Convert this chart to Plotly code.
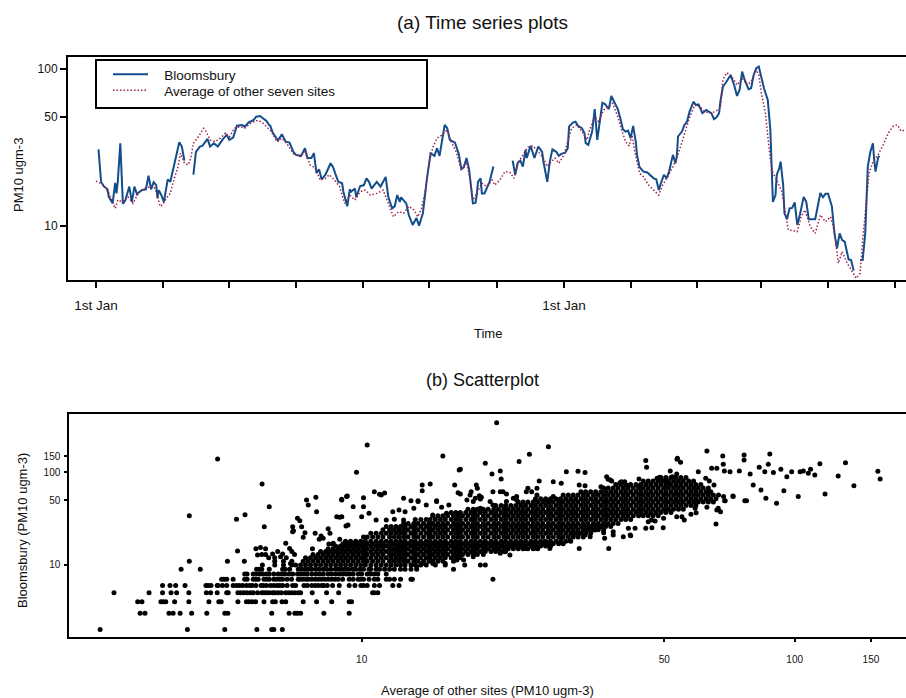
import pandas as pd
import plotly.graph_objects as go

# ---------------------------------------------------------------------------
# (a) Daily PM10 (ugm-3): Bloomsbury and the mean of the other seven sites.
#     Days are counted from 1st January of the first year; None marks gaps.
# ---------------------------------------------------------------------------
start = pd.Timestamp("1998-01-01")

bloom_day = [
    2, 4, 6, 9, 10, 12, 13, 15, 16, 17, 19, 21, 23, 26, 28, 30, 32, 34, 36, 39,
    41, 43, 45, 47, 48, 49, 51, 53, 56, 58, 62, 65, 67, 69, 72,
    76, 78, 81, 83, 87, 89, 92, 95, 99, 102, 104, 107, 110, 114, 116, 119, 123,
    125, 128, 130, 133, 135, 136, 138, 141, 142, 145, 147, 148, 151, 154, 156,
    160, 163, 165, 168, 170, 172, 174, 176, 179, 183, 185, 187, 189, 192, 193,
    196, 198, 199, 202, 203, 206, 209, 211, 213, 215, 219, 222, 224, 226, 228,
    231, 233, 235, 237, 238, 242, 244, 247, 250, 252, 255, 258, 261, 264, 266,
    268, 270, 272, 274, 276, 280, 283, 285, 287, 289, 291, 294, 296, 297, 298,
    300, 301, 303, 307, 310, 318,
    325, 327, 329, 331, 333, 335, 336, 339, 342, 345, 348, 349, 352, 354, 356,
    359, 361, 363, 366, 368, 369, 372, 374, 376, 379, 381, 382, 384, 387, 389,
    391, 393, 395, 397, 400, 402, 404, 407, 409, 411, 413, 415, 417, 419, 421,
    422, 424, 427, 430, 432, 435, 437, 439, 441, 443, 445, 447, 450, 452, 453,
    454, 457, 459, 461, 463, 466, 468, 470, 473, 476, 478, 480, 482, 484, 486,
    487, 489, 491, 495, 498, 500, 502, 504, 506, 509, 511, 513, 515, 517, 519,
    521, 524, 526, 527, 528, 530, 531, 533, 534, 536, 537, 539, 541, 543, 545,
    547, 549, 552, 554, 556, 561, 565, 567, 569, 571, 574, 576, 578, 580, 582,
    584, 587, 589, 591, 593,
    596, 598, 600, 601, 602, 604, 606, 607, 608, 610, 611,
]
bloom_pm10 = [
    30.9, 19.2, 18.0, 17.2, 15.4, 14.5, 14.0, 18.9, 16.2, 19.2, 33.8, 13.9, 14.7,
    17.9, 14.3, 17.9, 16.0, 16.6, 17.0, 17.2, 21.0, 17.2, 19.1, 18.3, 15.1, 17.0,
    15.8, 14.3, 19.9, 19.2, 26.5, 34.3, 32.2, 26.2, None,
    21.3, 29.8, 32.2, 32.5, 36.0, 32.2, 33.8, 32.2, 35.9, 38.2, 35.5, 36.7, 43.7,
    44.2, 43.1, 45.8, 47.6, 49.9, 50.4, 48.8, 46.9, 44.2, 43.6, 39.2, 35.9, 35.2,
    38.6, 35.9, 34.6, 34.1, 29.8, 28.5, 28.1, 31.4, 27.2, 27.2, 29.2, 21.8, 23.1,
    19.9, 21.3, 25.2, 23.8, 21.3, 19.2, 18.8, 16.6, 13.4, 17.2, 16.6, 17.4, 15.3,
    18.0, 18.3, 20.2, 19.2, 17.4, 19.2, 17.9, 19.2, 20.6, 15.4, 13.0, 13.4, 15.8,
    14.3, 15.3, 14.0, 11.8, 10.2, 11.3, 10.1, 12.1, 19.7, 29.2, 28.1, 31.4, 28.1,
    36.4, 44.2, 42.1, 35.5, 34.1, 28.9, 23.1, 23.8, 27.2, 23.1, 14.0, 14.1, 15.8,
    19.2, 20.2, 16.2, 16.2, 19.2, 24.0, None,
    26.2, 21.3, 25.4, 26.2, 24.0, 30.6, 27.2, 32.5, 27.2, 32.2, 29.8, 25.8, 19.2,
    25.8, 30.9, 29.8, 28.1, 28.9, 29.4, 31.4, 43.1, 45.8, 46.4, 43.6, 42.1, 39.2,
    33.8, 33.0, 40.1, 55.7, 35.5, 46.4, 61.2, 60.1, 55.7, 67.6, 63.0, 55.7, 48.8,
    41.5, 40.1, 40.7, 36.4, 43.6, 34.6, 28.5, 23.8, 22.3, 22.0, 21.3, 20.2, 19.9,
    17.0, 19.2, 21.3, 20.2, 22.3, 28.5, 25.2, 27.8, 37.3, 40.1, 44.2, 46.4, 53.7,
    62.1, 59.2, 59.8, 52.5, 55.1, 53.7, 52.5, 48.1, 49.5, 52.5, 62.1, 77.4, 81.4,
    92.0, 78.2, 67.6, 73.8, 96.6, 85.5, 74.6, 75.7, 92.0, 101.5, 103.9, 87.7,
    75.7, 63.7, 41.1, 24.0, 14.3, 15.8, 21.3, 23.5, 25.8, 18.3, 12.1, 11.1, 13.0,
    13.1, 14.2, 10.2, 11.8, 15.4, 14.3, 11.1, 11.1, 16.3, 15.3, 16.1, 16.1, 13.4,
    9.02, 7.24, 9.02, 8.18, 7.98, 6.16, 6.10, 5.22, None,
    6.10, 6.10, 9.02, 15.4, 24.0, 29.8, 33.8, 26.5, 22.3, 27.2, 28.1,
]

avg_day = [
    0, 6, 10, 12, 15, 17, 21, 25, 29, 33, 37, 41, 45, 47, 50, 52, 55, 58, 60, 64,
    66, 69, 72, 74, 76, 80, 84, 86, 89, 93, 97, 101, 104, 108, 112, 116, 121,
    125, 129, 133, 137, 141, 145, 149, 154, 159, 163, 167, 171, 175, 179, 182,
    186, 190, 194, 198, 202, 206, 210, 214, 219, 224, 228, 232, 236, 240, 244,
    248, 251, 254, 257, 260, 263, 266, 270, 274, 277, 281, 285, 289, 292, 294,
    297, 301, 305, 309, 311, 315, 319, 323, 326, 329, 333, 337, 341, 345, 349,
    352, 354, 358, 361, 365, 368, 371, 375, 379, 383, 385, 389, 392, 396, 400,
    403, 407, 410, 413, 416, 418, 420, 424, 427, 431, 435, 439, 442, 446, 450,
    453, 456, 459, 463, 467, 471, 475, 479, 483, 487, 489, 492, 496, 500, 504,
    508, 511, 515, 517, 519, 522, 524, 526, 528, 531, 535, 537, 540, 544, 547,
    550, 553, 557, 561, 565, 569, 573, 576, 579, 582, 586, 589, 593, 596, 598,
    601, 603, 606, 610, 614, 618, 622, 625, 628, 631,
]
avg_pm10 = [
    19.4, 18.3, 16.3, 14.7, 13.0, 14.7, 14.3, 15.4, 14.0, 16.2, 17.4, 17.7, 18.0,
    16.6, 13.4, 13.7, 15.1, 16.2, 18.8, 24.0, 29.2, 25.2, 24.6, 27.2, 33.8, 37.3,
    42.1, 40.1, 35.5, 34.6, 36.4, 39.2, 36.9, 42.1, 43.1, 42.1, 45.6, 47.1, 46.4,
    43.1, 40.1, 34.6, 36.4, 33.5, 28.9, 27.8, 29.8, 24.6, 23.5, 19.7, 20.2, 21.3,
    19.7, 17.9, 14.0, 15.8, 14.7, 16.6, 17.0, 15.8, 16.2, 17.0, 14.0, 11.5, 12.4,
    12.1, 13.4, 12.7, 11.5, 13.0, 17.0, 25.8, 32.2, 36.4, 38.2, 41.1, 34.6, 29.8,
    22.9, 25.8, 19.7, 14.7, 16.2, 18.8, 17.9, 19.7, 18.3, 19.7, 22.3, 22.0, 20.2,
    25.2, 28.5, 31.9, 32.5, 29.8, 27.2, 24.0, 25.2, 27.2, 25.2, 28.5, 34.6, 42.1,
    44.2, 40.1, 35.5, 41.1, 49.9, 46.4, 55.1, 57.7, 60.7, 49.9, 41.1, 34.6, 32.5,
    38.2, 30.6, 21.8, 20.7, 18.3, 17.0, 15.8, 18.3, 20.7, 24.0, 27.2, 32.2, 38.2,
    49.4, 59.2, 57.7, 53.7, 52.5, 53.7, 56.6, 85.5, 95.2, 89.7, 79.4, 87.7, 79.4,
    83.4, 99.0, 92.0, 70.3, 53.7, 35.5, 26.5, 21.8, 19.7, 16.6, 13.4, 9.47, 9.38,
    9.24, 11.5, 12.7, 10.0, 9.02, 11.8, 10.7, 11.5, 9.24, 5.81, 6.89, 5.81, 5.27,
    4.67, 5.02, 8.18, 14.7, 21.8, 25.8, 28.5, 33.0, 39.2, 43.6, 44.2, 40.4, 41.0,
]

# ---------------------------------------------------------------------------
# (b) Paired daily values: x = average of other sites, y = Bloomsbury.
#     Low Bloomsbury readings are whole numbers, so they fall on rows.
# ---------------------------------------------------------------------------
low_rows_y = [2, 3, 4, 5, 6, 7, 8, 9]
low_rows_x = [
    "2.49 3.96 4.83 5.73 6.2 6.27 6.56",
    "3.08 3.16 3.59 3.67 3.81 4.05 4.39 4.83 4.91 6.2 6.8 7.01 7.11 7.23 8.18 9.36",
    "3.04 3.11 3.44 3.48 3.53 3.70 3.99 4.44 4.68 4.74 5.18 5.42 5.50 5.59 5.69 5.95 "
    "6.23 6.32 6.55 6.68 7.33 7.87 8.53 9.36 9.48",
    "2.68 3.23 3.47 3.63 3.74 3.99 4.38 4.48 4.64 4.88 4.92 5.18 5.26 5.34 5.43 5.53 "
    "5.62 5.75 5.88 5.95 6.03 6.12 6.23 6.31 6.42 6.53 6.68 6.78 6.88 7.00 7.13 7.23 "
    "7.69 8.30 8.85 10.6 10.7 10.9",
    "3.47 3.61 3.72 3.91 4.37 4.42 4.49 4.64 4.66 4.77 4.88 5.05 5.14 5.22 5.31 5.42 "
    "5.52 5.59 5.70 5.86 5.93 6.03 6.16 6.27 6.38 6.47 6.57 6.73 6.93 7.04 7.36 7.49 "
    "7.67 7.81 7.94 8.09 8.18 8.33 8.57 8.88 9.36 9.65 9.96 10.1 10.3 10.7 11.0 11.8 12.2",
    "4.75 4.81 4.88 5.05 5.37 5.44 5.62 5.70 5.77 5.95 6.03 6.12 6.27 6.36 6.47 6.57 "
    "6.73 6.89 7.14 7.20 7.31 7.44 7.53 7.67 7.81 7.94 8.09 8.23 8.37 8.53 8.68 8.83 "
    "9.04 9.36 9.56 9.82 9.95 10.1 10.4 10.7 10.9 11.4 11.6 11.9 12.3 13.0 13.1 20.1",
    "5.37 5.44 5.62 5.70 5.82 5.92 6.03 6.12 6.27 6.42 6.53 6.65 6.80 6.93 7.11 7.23 "
    "7.36 7.49 7.67 7.84 8.01 8.16 8.37 8.53 8.72 8.91 9.07 9.23 9.39 9.56 9.82 10.0 "
    "10.3 10.5 10.7 10.9 11.4",
    "3.83 4.24 5.72 5.80 5.88 6.12 6.57 6.66 6.82 7.14 7.27 7.40 7.53 7.67 7.84 7.98 "
    "8.16 8.31 8.49 8.69 8.84 9.0 9.15 9.32 9.53 9.69 9.91 10.1 10.4 10.5 10.8 11.0 "
    "11.3 11.6 11.9 12.3 12.6 13.0 13.4 16.3",
]

# Main body of the cloud (Bloomsbury value, then the matching averages)
band_rows_y = [10, 11, 12, 13, 14, 15, 16, 17, 18, 20, 22, 24, 26, 28, 31, 34,
               37, 40, 44, 48, 52, 57, 62, 68, 74, 81, 88]
band_rows_x = [
    "7.04 7.23 7.42 7.62 7.83 8.04 8.26 8.48 8.71 8.94 9.18 9.43 9.69 9.95 10.2 10.5 "
    "10.8 11.1 11.4 11.7 12.0 12.3 12.6 13.0 13.3 13.7 14.1 14.8 15.6",
    "7.33 7.52 7.72 7.93 8.15 8.37 8.59 8.83 9.06 9.30 9.56 9.82 10.1 10.3 10.6 10.9 "
    "11.2 11.6 11.9 12.2 12.5 12.8 13.2 13.5 13.9 14.3 14.6 15.0 15.4 16.3",
    "7.42 7.62 7.83 8.04 8.26 8.48 8.71 8.94 9.18 9.43 9.69 9.95 10.2 10.5 10.8 11.1 "
    "11.4 11.7 12.0 12.3 12.6 13.0 13.3 13.7 14.1 14.4 14.8 15.2 15.6 16.1 16.5 16.9",
    "7.72 7.93 8.15 8.37 8.59 8.83 9.06 9.30 9.56 9.82 10.1 10.3 10.6 10.9 11.2 11.6 "
    "11.9 12.2 12.5 12.8 13.2 13.5 13.9 14.3 14.6 15.0 15.4 15.8 16.3 16.7 17.1 17.6 "
    "18.1 18.5 19.1",
    "8.04 8.26 8.48 8.71 8.94 9.18 9.43 9.69 9.95 10.2 10.5 10.8 11.1 11.4 11.7 12.0 "
    "12.3 12.6 13.0 13.3 13.7 14.1 14.4 14.8 15.2 15.6 16.1 16.5 16.9 17.4 17.9 18.3 "
    "18.8 19.3 19.9 20.4 21.0 21.5",
    "8.37 8.59 8.83 9.06 9.30 9.56 9.82 10.1 10.3 10.6 10.9 11.2 11.6 11.9 12.2 12.5 "
    "12.8 13.2 13.5 13.9 14.3 14.6 15.0 15.4 15.8 16.3 16.7 17.1 17.6 18.1 18.5 19.1 "
    "19.6 20.2 20.7 21.3 21.8 22.4 23.0 23.6 24.2 24.9 25.5",
    "8.71 8.94 9.18 9.43 9.69 9.95 10.2 10.5 10.8 11.1 11.4 11.7 12.0 12.3 12.6 13.0 "
    "13.3 13.7 14.1 14.4 14.8 15.2 15.6 16.1 16.5 16.9 17.4 17.9 18.3 18.8 19.3 19.9 "
    "20.4 21.0 21.5 22.1 22.7 23.3 23.9 24.6 25.2 25.9 26.6 27.3",
    "9.06 9.30 9.56 9.82 10.1 10.3 10.6 10.9 11.2 11.6 11.9 12.2 12.5 12.8 13.2 13.5 "
    "13.9 14.3 14.6 15.0 15.4 15.8 16.3 16.7 17.1 17.6 18.1 18.5 19.1 19.6 20.2 20.7 "
    "21.3 21.8 22.4 23.0 23.6 24.2 24.9 25.5 26.2 27.0 27.7 28.5 29.2",
    "9.18 9.43 9.69 9.95 10.2 10.5 10.8 11.1 11.4 11.7 12.0 12.3 12.6 13.0 13.3 13.7 "
    "14.1 14.4 14.8 15.2 15.6 16.1 16.5 16.9 17.4 17.9 18.3 18.8 19.3 19.9 20.4 21.0 "
    "21.5 22.1 22.7 23.3 23.9 24.6 25.2 25.9 26.6 27.3 28.1 28.8 29.6 30.4",
    "10.1 10.3 10.6 10.9 11.2 11.6 11.9 12.2 12.5 12.8 13.2 13.5 13.9 14.3 14.6 15.0 "
    "15.4 15.8 16.3 16.7 17.1 17.6 18.1 18.5 19.1 19.6 20.2 20.7 21.3 21.8 22.4 23.0 "
    "23.6 24.2 24.9 25.5 26.2 27.0 27.7 28.5 29.2 30.0 30.8 31.6 32.5",
    "10.5 10.8 11.1 11.4 11.7 12.0 12.3 12.6 13.0 13.3 13.7 14.1 14.4 14.8 15.2 15.6 "
    "16.1 16.5 16.9 17.4 17.9 18.3 18.8 19.3 19.9 20.4 21.0 21.5 22.1 22.7 23.3 23.9 "
    "24.6 25.2 25.9 26.6 27.3 28.1 28.8 29.6 30.4 31.2 32.1 32.9 33.8",
    "11.2 11.6 11.9 12.2 12.5 12.8 13.2 13.5 13.9 14.3 14.6 15.0 15.4 15.8 16.3 16.7 "
    "17.1 17.6 18.1 18.5 19.1 19.6 20.2 20.7 21.3 21.8 22.4 23.0 23.6 24.2 24.9 25.5 "
    "26.2 27.0 27.7 28.5 29.2 30.0 30.8 31.6 32.5 33.3 34.3 35.2 36.2",
    "11.4 11.7 12.0 12.3 12.6 13.0 13.3 13.7 14.1 14.4 14.8 15.2 15.6 16.1 16.5 16.9 "
    "17.4 17.9 18.3 18.8 19.3 19.9 20.4 21.0 21.5 22.1 22.7 23.3 23.9 24.6 25.2 25.9 "
    "26.6 27.3 28.1 28.8 29.6 30.4 31.2 32.1 32.9 33.8 34.7 35.7 36.6 37.6",
    "12.5 12.8 13.2 13.5 13.9 14.3 14.6 15.0 15.4 15.8 16.3 16.7 17.1 17.6 18.1 18.5 "
    "19.1 19.6 20.2 20.7 21.3 21.8 22.4 23.0 23.6 24.2 24.9 25.5 26.2 27.0 27.7 28.5 "
    "29.2 30.0 30.8 31.6 32.5 33.3 34.3 35.2 36.2 37.1 38.1 39.1",
    "13.3 13.7 14.1 14.4 14.8 15.2 15.6 16.1 16.5 16.9 17.4 17.9 18.3 18.8 19.3 19.9 "
    "20.4 21.0 21.5 22.1 22.7 23.3 23.9 24.6 25.2 25.9 26.6 27.3 28.1 28.8 29.6 30.4 "
    "31.2 32.1 32.9 33.8 34.7 35.7 36.6 37.6 38.6 39.7 40.7 41.8",
    "14.6 15.0 15.4 15.8 16.3 16.7 17.1 17.6 18.1 18.5 19.1 19.6 20.2 20.7 21.3 21.8 "
    "22.4 23.0 23.6 24.2 24.9 25.5 26.2 27.0 27.7 28.5 29.2 30.0 30.8 31.6 32.5 33.3 "
    "34.3 35.2 36.2 37.1 38.1 39.1 40.2 41.2 42.4 43.6 44.7 45.9 47.1 48.4",
    "16.1 16.5 16.9 17.4 17.9 18.3 18.8 19.3 19.9 20.4 21.0 21.5 22.1 22.7 23.3 23.9 "
    "24.6 25.2 25.9 26.6 27.3 28.1 28.8 29.6 30.4 31.2 32.1 32.9 33.8 34.7 35.7 36.6 "
    "37.6 38.6 39.7 40.7 41.8 43.0 44.1 45.3 46.5 47.8 49.1 50.4 51.8",
    "17.6 18.1 18.5 19.1 19.6 20.2 20.7 21.3 21.8 22.4 23.0 23.6 24.2 24.9 25.5 26.2 "
    "27.0 27.7 28.5 29.2 30.0 30.8 31.6 32.5 33.3 34.3 35.2 36.2 37.1 38.1 39.1 40.2 "
    "41.2 42.4 43.6 44.7 45.9 47.1 48.4 49.8 51.1 52.5 53.9 55.3",
    "20.4 21.0 21.5 22.1 22.7 23.3 23.9 24.6 25.2 25.9 26.6 27.3 28.1 28.8 29.6 30.4 "
    "31.2 32.1 32.9 33.8 34.7 35.7 36.6 37.6 38.6 39.7 40.7 41.8 43.0 44.1 45.3 46.5 "
    "47.8 49.1 50.4 51.8 53.2 54.6 56.1 57.6 59.1",
    "23.0 23.6 24.2 24.9 25.5 26.2 27.0 27.7 28.5 29.2 30.0 30.8 31.6 32.5 33.3 34.3 "
    "35.2 36.2 37.1 38.1 39.1 40.2 41.2 42.4 43.6 44.7 45.9 47.1 48.4 49.8 51.1 52.5 "
    "53.9 55.3 56.9 58.4 59.9 61.5 63.2 64.9",
    "25.2 25.9 26.6 27.3 28.1 28.8 29.6 30.4 31.2 32.1 32.9 33.8 34.7 35.7 36.6 37.6 "
    "38.6 39.7 40.7 41.8 43.0 44.1 45.3 46.5 47.8 49.1 50.4 51.8 53.2 54.6 56.1 57.6 "
    "59.1 60.7 62.4 64.0 65.8",
    "29.2 30.0 30.8 31.6 32.5 33.3 34.3 35.2 36.2 37.1 38.1 39.1 40.2 41.2 42.4 43.6 "
    "44.7 45.9 47.1 48.4 49.8 51.1 52.5 53.9 55.3 56.9 58.4 59.9 61.5 63.2 64.9 66.7",
    "32.1 32.9 33.8 34.7 35.7 36.6 37.6 38.6 39.7 40.7 41.8 43.0 44.1 45.3 46.5 47.8 "
    "49.1 50.4 51.8 53.2 54.6 56.1 57.6 59.1 60.7 62.4 64.0",
    "36.2 37.1 38.1 39.1 40.2 41.2 42.4 43.6 44.7 45.9 47.1 48.4 49.8 51.1 52.5 53.9 "
    "55.3 56.9 58.4 59.9 61.5 63.2",
    "38.6 39.7 40.7 41.8 43.0 44.1 45.3 46.5 47.8 49.1 50.4 51.8 53.2 54.6 56.1 57.6 "
    "59.1 60.7",
    "44.7 45.9 47.1 48.4 49.8 51.1 52.5 53.9 55.3 56.9 58.4",
    "49.1 50.4 51.8 53.2 54.6 56.1",
]

# Scattered days around the main cloud, as (average, Bloomsbury)
fringe_pts = [
    (4.0, 34), (4.65, 140), (5.14, 31.2), (5.38, 34.8), (5.89, 75), (5.96, 25.9),
    (6.12, 42.7), (6.93, 25.9), (6.96, 23.5), (7.11, 31.9), (7.2, 30.1),
    (7.27, 25.9), (7.33, 19.9), (7.46, 50.5), (7.53, 44.5), (7.84, 54),
    (7.87, 37.7), (7.81, 22.0), (7.98, 19), (8.06, 20.6), (8.37, 24.6),
    (8.6, 17.2), (8.9, 32.8), (8.99, 51.3), (9.23, 54.8), (9.2, 26.4), (9.3, 27),
    (9.56, 42.7), (9.73, 100.5), (10.1, 42.7), (10.1, 53.4), (10.3, 198),
    (10.4, 36.2), (10.7, 62), (11.0, 58), (11.3, 60), (10.8, 30.6), (12.5, 52.6),
    (13.0, 49.6), (13.5, 49.6), (13.8, 73.3), (13.8, 63.6), (14.4, 75),
    (14.9, 49.6), (15.4, 151), (16.4, 73), (16.8, 106), (11.8, 37.7),
    (12.2, 39.3), (12.6, 37.7), (20.5, 345), (27, 190), (24.4, 157), (23.1, 131),
    (19.3, 126), (16.9, 108), (20, 96), (20.9, 104), (21, 85), (18.4, 73),
    (18.5, 67.4), (18.7, 56), (18.8, 51.7), (17.9, 62), (18.3, 52.6), (18.9, 54),
    (20.1, 62), (20.9, 62), (21.6, 58.6), (22.8, 55), (24.2, 67.4), (24.7, 62),
    (25.4, 67.4), (25.7, 81), (27.7, 79.5), (28.9, 76.5), (29.7, 102),
    (31.6, 103), (32.8, 99.6), (31.8, 73), (32.8, 72), (36.8, 90), (37.5, 83),
    (39.8, 79.5), (40.5, 79.5), (43.7, 85), (45.3, 135), (48.1, 86.6),
    (48.8, 88.6), (51.6, 104), (53.5, 139), (54.5, 129), (52.2, 90), (59.9, 102),
    (62.7, 171), (64.3, 111), (66.1, 111), (68.2, 151), (68.4, 123), (68.8, 104),
    (70.9, 102), (74.5, 104), (76.4, 154), (76.4, 136), (78.9, 96), (82.8, 114),
    (85.3, 102), (86.9, 123), (87.6, 158), (89.3, 99.6), (92.9, 108), (95.9, 90),
    (98.4, 102), (102.9, 102), (104.7, 104), (107.5, 98), (108.8, 108),
    (111.3, 94), (114.3, 124), (126, 91.6), (131, 127), (137, 72), (155.6, 103),
    (157.5, 85), (117.5, 58.5), (101.9, 54.8), (90.8, 46.4), (85.8, 52.6),
    (94.4, 63.6), (83.6, 64.6), (80.2, 73), (77.4, 49.6), (76.7, 49.6),
    (65.8, 27.7), (66.6, 41), (68.5, 54.8), (69.1, 49.6), (72.1, 54.8),
    (53.6, 142), (45.5, 114), (53.4, 96), (48.9, 83), (50.8, 76.5), (39.5, 77.6),
    (41.7, 73), (43.7, 70), (37.1, 84.5), (37.8, 81), (35.7, 70), (62.3, 86.6),
    (63.5, 81), (65.1, 73), (63.5, 62), (67.4, 37.7), (68.9, 49.3), (72, 55.6),
    (16.7, 60.4), (16.9, 58.5), (11.1, 57), (9.0, 50.5), (9.27, 55.6),
    (6.93, 22.9), (7.4, 22.3), (8.15, 19.4), (8.45, 22), (8.4, 16.9),
    (8.56, 16.9), (8.9, 19), (8.76, 33.3), (9.0, 33.3), (10.0, 33.3),
    (11.4, 30.6), (11.9, 31.2), (12.5, 30.6), (13.2, 41), (13.5, 48.4),
    (14.1, 44.5), (14.9, 48.4), (14.6, 34.7), (15.3, 42), (15.9, 44.5),
    (15.7, 36.2), (17.5, 50.5), (17.8, 57), (18.1, 48.4), (18.8, 41),
    (19.8, 48.4), (20.1, 44.5), (21.2, 62), (22.4, 52.6), (21.6, 48.4),
    (22.8, 50.5), (24, 62), (25.4, 57), (26.3, 48.4), (27.7, 54.8), (28.7, 50.5),
    (18.8, 10), (19.3, 10), (17.3, 10), (15.6, 10.4), (14.6, 10.4), (13.8, 10.4),
    (13.4, 9.6), (20.9, 13.4), (21.4, 13.9), (22, 12.8), (24, 15.1), (25.4, 15.1),
    (27.2, 15.1), (30.3, 18.3), (31.8, 15.1), (18.1, 12.3), (17.2, 11.3),
    (16.6, 11.3), (24.8, 17.2), (25.2, 16.1), (26.5, 17.9), (28.9, 19.4),
    (30.8, 21.1), (31.9, 22), (32.9, 23.9), (33.7, 24.9), (37.2, 15.1),
    (36.2, 22.3), (38.1, 22.9), (36.4, 19.4), (41.3, 24.9), (42.8, 24.9),
    (45.9, 29.4), (46.7, 30.6), (49.8, 31.9), (53.4, 33.3), (32.8, 21.1),
    (33.7, 20.2), (34.6, 23.9), (35.5, 25.9), (38.1, 21.1), (41.7, 21.1),
    (45.3, 24.9), (49.7, 25.3), (40.2, 20.2), (41.8, 20.7), (46.8, 25.3),
    (55.6, 30.6), (57.6, 35.3), (59.2, 36.7), (47.6, 29.9), (54.9, 33.3),
    (58.9, 41.1), (62.7, 42), (66.1, 39.3),
    (4.0, 11), (4.9, 11), (5.36, 11), (5.75, 12.8), (5.88, 13), (6.0, 13),
    (5.84, 15.4), (5.17, 14.2), (6.23, 13.1), (6.57, 13.1), (6.68, 17.2),
    (6.82, 15.1), (6.85, 10.4), (7.7, 15), (5.7, 15), (6.0, 15), (6.1, 12),
    (6.3, 12), (6.5, 12.3), (6.7, 12), (5.9, 10), (6.3, 10), (6.6, 10), (6.9, 10),
    (6.3, 11), (6.6, 11), (6.9, 11), (7.0, 13), (6.9, 14), (6.4, 14),
]

# ---------------------------------------------------------------------------
# Assemble the series
# ---------------------------------------------------------------------------
bloom_dates = [start + pd.Timedelta(days=d) for d in bloom_day]
avg_dates = [start + pd.Timedelta(days=d) for d in avg_day]

sc_x, sc_y = [], []
for yv, row in list(zip(low_rows_y, low_rows_x)) + list(zip(band_rows_y, band_rows_x)):
    for v in row.split():
        sc_x.append(float(v))
        sc_y.append(yv)
for xv, yv in fringe_pts:
    sc_x.append(xv)
    sc_y.append(yv)

# ---------------------------------------------------------------------------
# Figure
# ---------------------------------------------------------------------------
W, H = 906, 698
FONT = "Liberation Sans, Arial, Helvetica, sans-serif"
INK = "#111111"
GAP = "\u00a0\u00a0\u00a0"   # breathing room between key symbol and label


def fx(px):
    return px / W


def fy(py):
    return 1 - py / H


fig = go.Figure()

fig.add_trace(go.Scatter(
    x=bloom_dates, y=bloom_pm10, mode="lines", name=GAP + "Bloomsbury",
    line=dict(color="#124e8c", width=2), connectgaps=False,
    xaxis="x", yaxis="y", legend="legend",
))
fig.add_trace(go.Scatter(
    x=avg_dates, y=avg_pm10, mode="lines",
    name=GAP + "Average of other seven sites",
    line=dict(color="#a0214f", width=1.5, dash="1.5px,2px"),
    xaxis="x", yaxis="y", legend="legend2",
))
fig.add_trace(go.Scatter(
    x=sc_x, y=sc_y, mode="markers", showlegend=False,
    marker=dict(size=5, color="black", line=dict(width=0)),
    xaxis="x2", yaxis="y2",
))

tick_days = [0, 52, 104, 156, 208, 260, 313, 365, 417, 469, 519, 571, 623]
tick_text = ["1st Jan" if d in (0, 365) else "" for d in tick_days]
tick_dates = [start + pd.Timedelta(days=d) for d in tick_days]
x_lo = start + pd.Timedelta(days=-21.8)
x_hi = start + pd.Timedelta(days=631.8)

axis_common = dict(
    showline=True, linecolor="black", linewidth=2, showgrid=False,
    zeroline=False, ticks="outside", tickcolor="black", tickwidth=1.5,
)
legend_common = dict(
    xanchor="left", yanchor="top", bgcolor="rgba(0,0,0,0)", borderwidth=0,
    font=dict(size=13.5, family=FONT, color=INK), itemwidth=35,
)

fig.update_layout(
    width=W, height=H,
    margin=dict(l=0, r=0, t=0, b=0),
    paper_bgcolor="white", plot_bgcolor="white",
    font=dict(family=FONT, color=INK),
    xaxis=dict(
        domain=[fx(68), 1], anchor="y", type="date",
        range=[x_lo.strftime("%Y-%m-%d %H:%M:%S"), x_hi.strftime("%Y-%m-%d %H:%M:%S")],
        tickmode="array", tickvals=tick_dates, ticktext=tick_text,
        ticklen=6, ticklabelstandoff=6, mirror=True,
        tickfont=dict(size=13.5, family=FONT, color=INK),
        **axis_common,
    ),
    yaxis=dict(
        domain=[fy(280), fy(57)], anchor="x", type="log",
        range=[0.658, 2.078], tickmode="array",
        tickvals=[10, 50, 100], ticktext=["10", "50", "100"],
        ticklen=6, tickfont=dict(size=12, family=FONT, color=INK),
        **axis_common,
    ),
    xaxis2=dict(
        domain=[fx(69.3), 1], anchor="y2", type="log",
        range=[0.325, 2.257], tickmode="array",
        tickvals=[10, 50, 100, 150], ticktext=["10", "50", "100", "150"],
        ticklen=3, ticklabelstandoff=9, mirror=True,
        tickfont=dict(size=10, family=FONT, color=INK),
        **axis_common,
    ),
    yaxis2=dict(
        domain=[fy(637.3), fy(414)], anchor="x2", type="log",
        range=[0.218, 2.632], tickmode="array",
        tickvals=[10, 50, 100, 150], ticktext=["10", "50", "100", "150"],
        ticklen=3, ticklabelstandoff=2,
        tickfont=dict(size=10, family=FONT, color=INK),
        **axis_common,
    ),
    showlegend=True,
    legend=dict(x=fx(108), y=fy(59), **legend_common),
    legend2=dict(x=fx(108), y=fy(75), **legend_common),
    shapes=[dict(
        type="rect", xref="paper", yref="paper",
        x0=fx(96), x1=fx(427), y0=fy(108), y1=fy(60),
        line=dict(color="black", width=2), fillcolor="rgba(0,0,0,0)",
    )],
)

labels = [
    ("(a) Time series plots", 482, 22, 19, 0),
    ("Time", 488, 334, 13, 0),
    ("PM10 ugm-3", 18, 175, 13, -90),
    ("(b) Scatterplot", 482, 380, 18, 0),
    ("Average of other sites (PM10 ugm-3)", 487, 690, 13, 0),
    ("Bloomsbury (PM10 ugm-3)", 22, 531, 13, -90),
]
for text, px, py, size, angle in labels:
    fig.add_annotation(
        text=text, xref="paper", yref="paper", x=fx(px), y=fy(py),
        xanchor="center", yanchor="middle", showarrow=False, textangle=angle,
        font=dict(size=size, family=FONT, color=INK),
    )

fig.write_html("out.html")
